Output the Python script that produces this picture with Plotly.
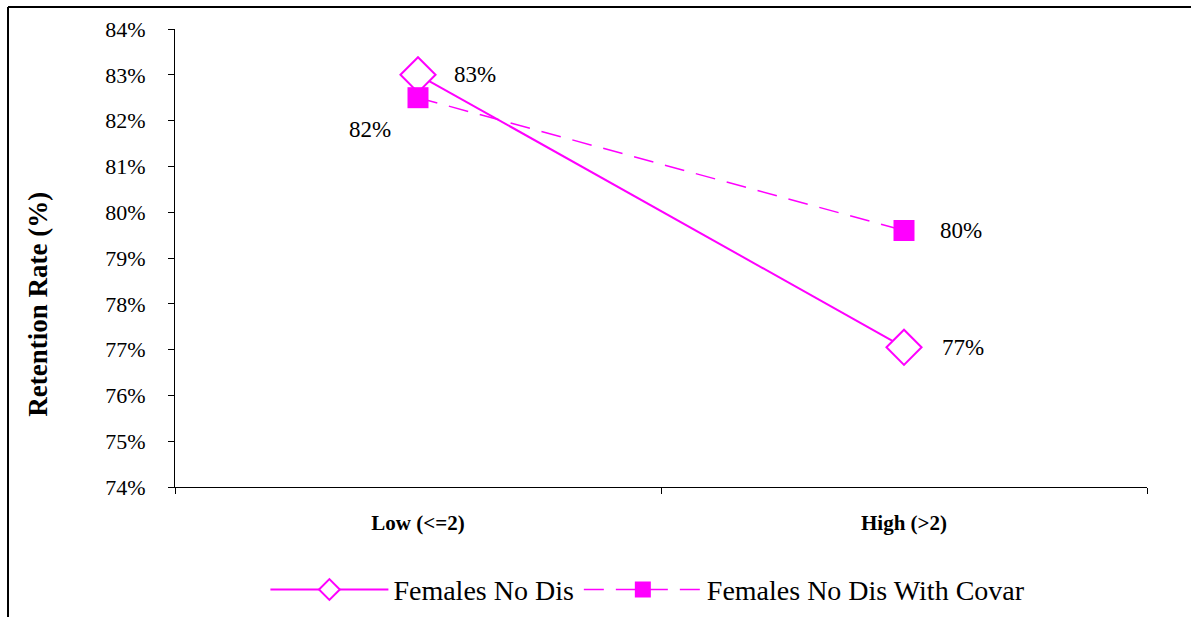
import plotly.graph_objects as go

categories = ["Low (<=2)", "High (>2)"]
females_no_dis = [83.0, 77.05]
females_no_dis_covar = [82.5, 79.6]
labels_no_dis = ["83%", "77%"]
labels_covar = ["82%", "80%"]
y_ticks = list(range(74, 85))
y_tick_text = [f"{v}%" for v in y_ticks]

MAG = "#FF00FF"
FONT = "Liberation Serif, Times New Roman, serif"

fig = go.Figure()
fig.add_trace(go.Scatter(
    x=categories, y=females_no_dis, name="Females No Dis", mode="lines+markers",
    line=dict(color=MAG, width=2),
    marker=dict(symbol="diamond", size=27, color="white", line=dict(width=2, color=MAG)),
))
fig.add_trace(go.Scatter(
    x=categories, y=females_no_dis_covar, name="Females No Dis With Covar", mode="lines+markers",
    line=dict(color=MAG, width=1.5, dash="20px,12px"),
    marker=dict(symbol="square", size=21, color=MAG),
))

# data labels
shifts_a = [(57, 0), (59, 0)]
for c, v, t, (dx, dy) in zip(categories, females_no_dis, labels_no_dis, shifts_a):
    fig.add_annotation(x=c, y=v, text=t, showarrow=False, xshift=dx, yshift=dy,
                       font=dict(family=FONT, size=23, color="black"))
shifts_b = [(-48, -32), (57, 0)]
for c, v, t, (dx, dy) in zip(categories, females_no_dis_covar, labels_covar, shifts_b):
    fig.add_annotation(x=c, y=v, text=t, showarrow=False, xshift=dx, yshift=dy,
                       font=dict(family=FONT, size=23, color="black"))

# y axis title (placed like the original, slightly below axis centre)
fig.add_annotation(xref="paper", yref="paper", x=-0.141, y=0.40, text="<b>Retention Rate (%)</b>",
                   textangle=-90, showarrow=False, xanchor="center", yanchor="middle",
                   font=dict(family=FONT, size=27, color="black"))

# outer frame (top and left edges)
fig.add_shape(type="line", xref="paper", yref="paper", x0=-0.1718, x1=1.1, y0=1.048, y1=1.048,
              line=dict(color="black", width=2))
fig.add_shape(type="line", xref="paper", yref="paper", x0=-0.1718, x1=-0.1718, y0=1.048, y1=-0.3,
              line=dict(color="black", width=2))

fig.update_layout(
    width=1191, height=617,
    margin=dict(l=175, r=44, t=29, b=130),
    paper_bgcolor="white", plot_bgcolor="white",
    font=dict(family=FONT, color="black"),
    showlegend=True,
    legend=dict(orientation="h", xref="container", yref="container",
                x=0.544, xanchor="center", y=0.044, yanchor="middle",
                itemwidth=118, font=dict(family=FONT, size=28, color="black")),
    xaxis=dict(type="category", range=[-0.5, 1.5], showline=True, linecolor="black", linewidth=1,
               ticks="outside", tickson="boundaries", ticklen=6, tickcolor="black",
               showgrid=False, zeroline=False, automargin=False,
               tickfont=dict(family=FONT, size=21, color="black"), ticklabelstandoff=17,
               tickvals=categories, ticktext=[f"<b>{c}</b>" for c in categories]),
    yaxis=dict(range=[74, 84], showline=True, linecolor="black", linewidth=1,
               ticks="outside", ticklen=6, tickcolor="black", automargin=False,
               tickvals=y_ticks, ticktext=y_tick_text, showgrid=False, zeroline=False,
               tickfont=dict(family=FONT, size=22, color="black"), ticklabelstandoff=18),
)

fig.write_html("out.html", config={"displayModeBar": False},
               post_script="document.body.style.margin='0';")
